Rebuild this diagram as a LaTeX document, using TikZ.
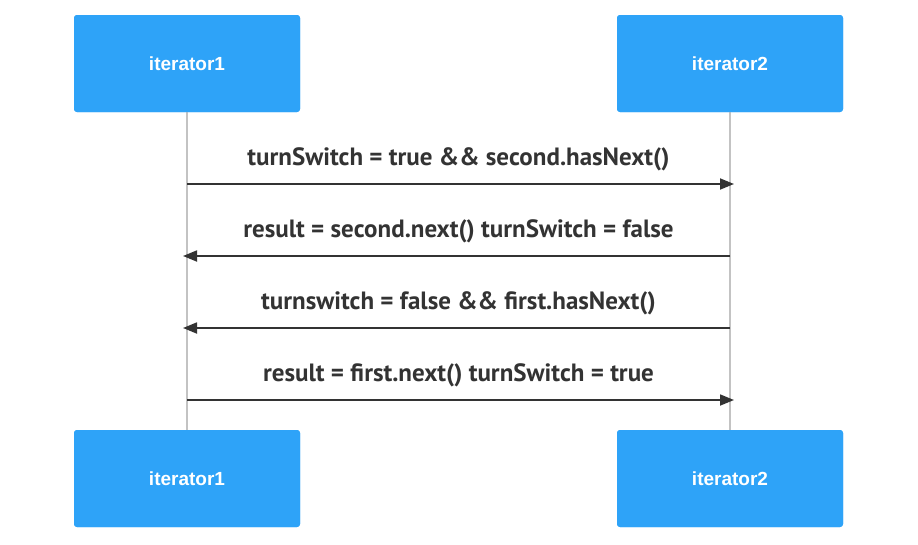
\documentclass[tikz,border=0pt]{standalone}
\usepackage{fontspec}
\setmainfont{Liberation Sans}
\newfontfamily\msgfont{PT Sans}
\usetikzlibrary{positioning, arrows.meta}
\definecolor{Actor-blue}{RGB}{46,163,248}
\definecolor{Msg-dark}{RGB}{51,51,51}
\definecolor{Life-grey}{RGB}{195,195,195}

\begin{document}
\begin{tikzpicture}[x=1pt, y=-1pt]
        \tikzset{ actor/.style={fill=Actor-blue, rounded corners=3pt, text=white, minimum width=226pt, minimum height=97pt, font=\fontsize{19}{22}\selectfont\bfseries} }
        \tikzset{ life/.style ={draw=Life-grey, line width=2.5pt} }
        \tikzset{ msg/.style  ={draw=Msg-dark, line width=1.8pt, -{Triangle[length=14pt, width=11pt]}, shorten >=-4pt} }
        \tikzset{ txt/.style  ={text=Msg-dark, font=\msgfont\fontsize{25}{30}\selectfont\bfseries} }

        \useasboundingbox (0,0) rectangle (918,544);

        \node[actor] (a1_top) at (187.0, 63.5) {iterator1};
        \node[actor] (a2_top) at (730.0, 63.5) {iterator2};
        \node[actor] (a1_bot) at (187.0,478.5) {iterator1};
        \node[actor] (a2_bot) at (730.0,478.5) {iterator2};

        \draw[life] (a1_top) -- (a1_bot);
        \draw[life] (a2_top) -- (a2_bot);
        \node[actor] at (a1_top) {iterator1};
        \node[actor] at (a2_top) {iterator2};
        \node[actor] at (a1_bot) {iterator1};
        \node[actor] at (a2_bot) {iterator2};

        \coordinate (a1_m1) at (187.0,184); \coordinate (a2_m1) at (730.0,184);
        \coordinate (a1_m2) at (187.0,256); \coordinate (a2_m2) at (730.0,256);
        \coordinate (a1_m3) at (187.0,328); \coordinate (a2_m3) at (730.0,328);
        \coordinate (a1_m4) at (187.0,400); \coordinate (a2_m4) at (730.0,400);

        \draw[msg] (a1_m1) -- (a2_m1) node [txt, midway, yshift=25pt] (m1) {turnSwitch = true \&\& second.hasNext()};
        \draw[msg] (a2_m2) -- (a1_m2) node [txt, midway, yshift=25pt] (m2) {result = second.next() turnSwitch = false};
        \draw[msg] (a2_m3) -- (a1_m3) node [txt, midway, yshift=25pt] (m3) {turnswitch = false \&\& first.hasNext()};
        \draw[msg] (a1_m4) -- (a2_m4) node [txt, midway, yshift=25pt] (m4) {result = first.next() turnSwitch = true};
      \end{tikzpicture}
\end{document}
